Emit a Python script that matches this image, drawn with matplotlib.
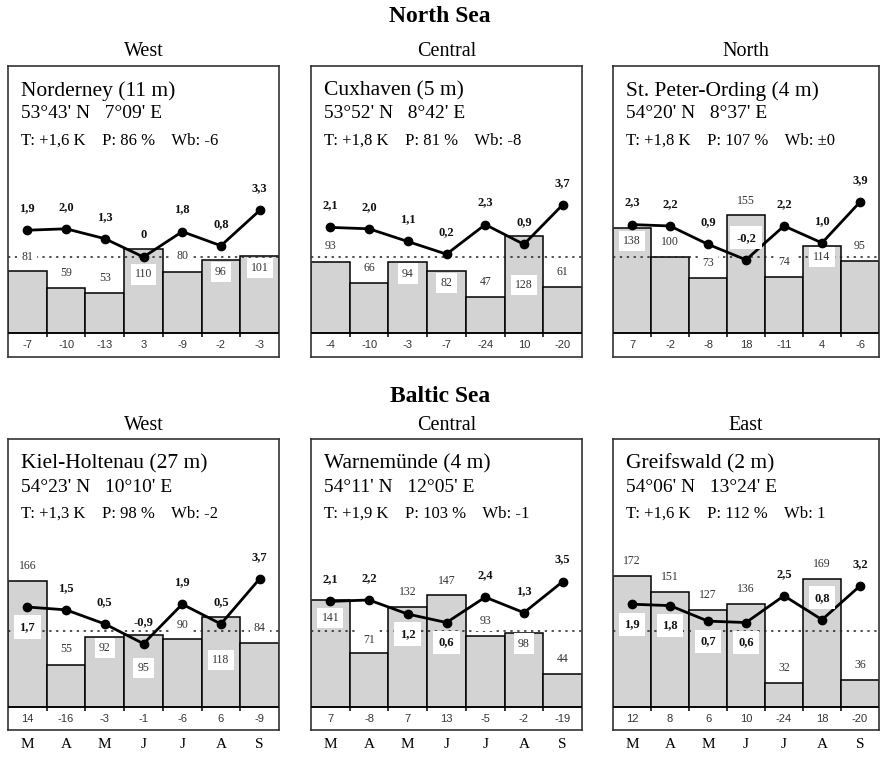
import matplotlib
matplotlib.use('Agg')
import matplotlib.pyplot as plt

plt.rcParams['font.family'] = ['Liberation Serif', 'DejaVu Serif']

W, H = 880, 761

months = ['M', 'A', 'M', 'J', 'J', 'A', 'S']

# North Sea stations
nor_temp = [1.9, 2.0, 1.3, 0.0, 1.8, 0.8, 3.3]
nor_prec = [81, 59, 53, 110, 80, 96, 101]
nor_wb = [-7, -10, -13, 3, -9, -2, -3]

cux_temp = [2.1, 2.0, 1.1, 0.2, 2.3, 0.9, 3.7]
cux_prec = [93, 66, 94, 82, 47, 128, 61]
cux_wb = [-4, -10, -3, -7, -24, 10, -20]

spo_temp = [2.3, 2.2, 0.9, -0.2, 2.2, 1.0, 3.9]
spo_prec = [138, 100, 73, 155, 74, 114, 95]
spo_wb = [7, -2, -8, 18, -11, 4, -6]

# Baltic Sea stations
kie_temp = [1.7, 1.5, 0.5, -0.9, 1.9, 0.5, 3.7]
kie_prec = [166, 55, 92, 95, 90, 118, 84]
kie_wb = [14, -16, -3, -1, -6, 6, -9]

war_temp = [2.1, 2.2, 1.2, 0.6, 2.4, 1.3, 3.5]
war_prec = [141, 71, 132, 147, 93, 98, 44]
war_wb = [7, -8, 7, 13, -5, -2, -19]

gre_temp = [1.9, 1.8, 0.7, 0.6, 2.5, 0.8, 3.2]
gre_prec = [172, 151, 127, 136, 32, 169, 36]
gre_wb = [12, 8, 6, 10, -24, 18, -20]

stations = [
    dict(name='Norderney (11 m)', pos="53°43' N   7°09' E", info='T: +1,6 K    P: 86 %    Wb: -6',
         temp=nor_temp, prec=nor_prec, wb=nor_wb,
         poff=[14, 15, 15, -25, 16, -12, -12], tpos='aaaaaaa'),
    dict(name='Cuxhaven (5 m)', pos="53°52' N   8°42' E", info='T: +1,8 K    P: 81 %    Wb: -8',
         temp=cux_temp, prec=cux_prec, wb=cux_wb,
         poff=[16, 15, -12, -12, 15, -49, 15], tpos='aaaaaaa'),
    dict(name='St. Peter-Ording (4 m)', pos="54°20' N   8°37' E", info='T: +1,8 K    P: 107 %    Wb: ±0',
         temp=spo_temp, prec=spo_prec, wb=spo_wb,
         poff=[-13, 15, 15, 14, 15, -11, 15], tpos='aaaBaaa'),
    dict(name='Kiel-Holtenau (27 m)', pos="54°23' N   10°10' E", info='T: +1,3 K    P: 98 %    Wb: -2',
         temp=kie_temp, prec=kie_prec, wb=kie_wb,
         poff=[15, 16, -11, -33, 14, -43, 15], tpos='baaaaaa'),
    dict(name='Warnemünde (4 m)', pos="54°11' N   12°05' E", info='T: +1,9 K    P: 103 %    Wb: -1',
         temp=war_temp, prec=war_prec, wb=war_wb,
         poff=[-18, 13, 15, 14, 15, -11, 15], tpos='aabbaaa'),
    dict(name='Greifswald (2 m)', pos="54°06' N   13°24' E", info='T: +1,6 K    P: 112 %    Wb: 1',
         temp=gre_temp, prec=gre_prec, wb=gre_wb,
         poff=[15, 15, 15, 15, 15, 15, 15], tpos='bbbbaBa'),
]

# layout in pixels
cols = [(8, 279), (311, 582), (613, 879)]
rows = [(66, 357, 333), (439, 730, 707)]
PX_P = 0.76    # pixels per % precipitation
PX_T = 14.1    # pixels per K
GRAY = '#d3d3d3'


def fmt_t(t):
    if t == 0:
        return '0'
    return f'{t:.1f}'.replace('.', ',')


def draw_panel(fig, x0, x1, y0, y1, base, st):
    ax = fig.add_axes([x0 / W, 1 - y1 / H, (x1 - x0) / W, (y1 - y0) / H])
    ylo = -(y1 - base) / PX_P
    yhi = (base - y0) / PX_P
    ax.set_xlim(-0.5, 6.5)
    ax.set_ylim(ylo, yhi)
    x = list(range(7))
    ax.bar(x, st['prec'], width=1, color=GRAY, edgecolor='black', linewidth=1.1, zorder=2)
    ax.axhline(0, color='black', lw=1.1, zorder=3)
    ax.vlines([i + 0.5 for i in range(6)], -4 / PX_P, 0, color='black', lw=1.1, zorder=3)
    ax.axhline(100, color='#222222', lw=1.1, ls=(0, (1.5, 3)), zorder=2.5)
    for i, p in enumerate(st['prec']):
        off = st['poff'][i]
        ax.text(i, p + off / PX_P, str(p), ha='center', va='center', fontsize=8.5,
                color='#333333', zorder=3.5,
                bbox=dict(boxstyle='square,pad=0.35', fc='white', ec='none'))
    for i, w in enumerate(st['wb']):
        ax.text(i, ylo / 2, str(w), ha='center', va='center', fontsize=8,
                family='Liberation Sans', color='#333333', zorder=3)
    ax.set_xticks([])
    ax.set_yticks([])
    for s in ax.spines.values():
        s.set_linewidth(1.2)
        s.set_color('#333333')

    ax2 = ax.twinx()
    ax2.set_ylim((ylo - 100) / (PX_T / PX_P), (yhi - 100) / (PX_T / PX_P))
    ax2.plot(x, st['temp'], color='black', lw=2, marker='o', ms=6, zorder=5)
    for i, t in enumerate(st['temp']):
        mode = st['tpos'][i]
        dy = -20 if mode == 'b' else 22
        kw = {}
        if mode in 'bB':
            kw['bbox'] = dict(boxstyle='square,pad=0.45', fc='white', ec='none')
        ax2.text(i, t + dy / PX_T, fmt_t(t), ha='center', va='center', fontsize=9,
                 fontweight='bold', color='#111111', zorder=6, **kw)
    ax2.set_yticks([])
    for s in ax2.spines.values():
        s.set_visible(False)

    fig.text((x0 + 13) / W, 1 - (y0 + 25) / H, st['name'], fontsize=15.5, va='center', ha='left')
    fig.text((x0 + 13) / W, 1 - (y0 + 48) / H, st['pos'], fontsize=14, va='center', ha='left')
    fig.text((x0 + 13) / W, 1 - (y0 + 75) / H, st['info'], fontsize=12, va='center', ha='left')
    return ax


fig = plt.figure(figsize=(W / 100, H / 100), dpi=100)

fig.text(440 / W, 1 - 16 / H, 'North Sea', fontsize=17, fontweight='bold', ha='center', va='center')
fig.text(440 / W, 1 - 396 / H, 'Baltic Sea', fontsize=17, fontweight='bold', ha='center', va='center')
col_titles = [['West', 'Central', 'North'], ['West', 'Central', 'East']]
title_y = [52, 425]

k = 0
for r, (y0, y1, base) in enumerate(rows):
    for c, (x0, x1) in enumerate(cols):
        fig.text((x0 + x1) / 2 / W, 1 - title_y[r] / H, col_titles[r][c], fontsize=14.5,
                 ha='center', va='center')
        ax = draw_panel(fig, x0, x1, y0, y1, base, stations[k])
        if r == 1:
            for i, m in enumerate(months):
                ax.text(i, -(744 - y1) / (y1 - y0), m, transform=ax.get_xaxis_transform(),
                        ha='center', va='center', fontsize=11)
        k += 1

fig.savefig('out.png', dpi=100)
